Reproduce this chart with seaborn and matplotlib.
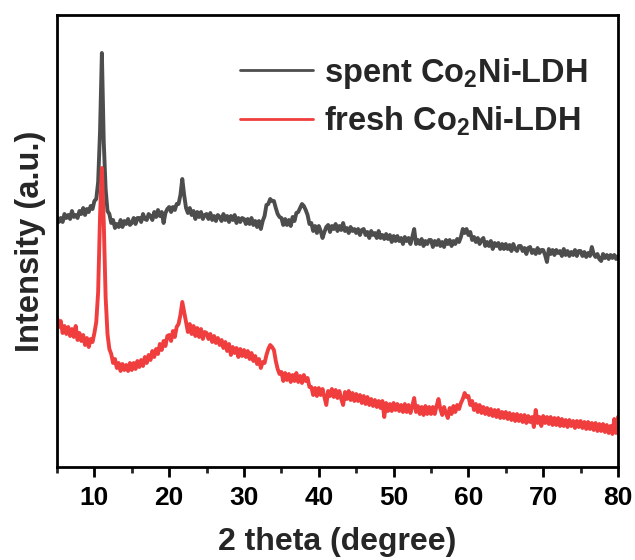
import numpy as np
import pandas as pd
import matplotlib
matplotlib.use("Agg")
import matplotlib.pyplot as plt
import seaborn as sns
from matplotlib.ticker import MultipleLocator

# 2-theta scan grid (degrees)
two_theta = np.arange(5.0, 80.001, 0.25)

# spent Co2Ni-LDH intensity (a.u.)
spent = [
    250,245,249,245,253,249,252,248,256,250,252,249,256,253,259,252,258,255,261,258,
    266,268,285,335,414,325,278,256,253,244,247,239,243,240,247,240,246,243,248,242,
    244,249,243,249,249,245,253,248,247,253,251,247,255,250,257,251,255,244,254,258,
    260,255,260,257,263,263,272,288,272,259,254,259,252,256,248,255,250,255,248,252,
    253,248,254,247,251,246,252,250,246,253,247,251,245,251,247,252,244,249,245,249,
    248,243,248,243,249,242,246,240,246,238,246,251,262,263,268,266,266,259,253,250,
    249,242,248,242,247,241,250,246,254,255,259,263,261,257,252,243,244,236,241,234,
    241,236,229,235,240,242,235,241,238,243,236,241,237,244,236,239,234,240,236,238,
    234,238,232,237,238,232,235,229,236,232,234,229,236,229,232,228,233,228,232,225,
    231,226,231,226,229,223,230,226,229,223,230,238,223,227,223,228,221,226,223,227,
    227,220,226,222,227,221,225,220,227,223,227,221,226,223,228,225,230,238,234,238,
    232,235,227,230,225,229,223,227,229,221,225,221,226,218,224,221,224,218,223,218,
    223,218,222,216,223,218,216,221,221,216,219,213,219,220,214,217,213,219,214,217,
    217,212,205,218,213,217,212,217,214,216,211,218,212,216,211,215,212,217,211,216,
    216,211,215,210,214,211,220,213,210,213,208,206,213,209,212,208,212,209,212,208,211,
]

# fresh Co2Ni-LDH intensity (a.u.)
fresh = [
    150,140,146,134,141,133,140,131,138,130,141,127,134,126,132,122,129,120,128,125,
    134,145,175,250,299,245,170,133,118,113,104,108,99,104,96,103,97,102,96,104,
    97,104,98,106,100,107,101,110,104,112,107,116,110,118,113,123,117,126,121,131,
    132,126,136,130,140,143,152,165,155,145,135,143,133,141,131,139,130,138,128,135,
    134,128,133,125,131,124,129,122,127,119,125,116,123,112,120,114,119,110,118,111,
    117,110,116,108,114,106,111,103,108,99,105,104,112,118,122,120,117,106,98,93,
    95,86,94,87,93,85,92,86,94,85,91,84,92,86,89,80,80,72,79,71,
    79,72,78,70,62,76,71,78,70,77,69,76,68,62,75,68,76,67,74,66,
    73,66,72,64,71,63,70,62,68,61,67,60,66,59,66,50,64,56,63,56,
    64,57,63,56,62,55,63,55,62,54,61,69,55,61,53,60,52,61,53,60,
    53,60,53,61,68,58,52,60,54,49,59,53,61,55,62,58,64,68,74,70,
    71,62,66,57,63,55,62,54,60,53,59,52,58,51,57,50,57,49,55,49,
    55,48,54,47,53,46,53,46,52,45,52,44,51,45,50,40,57,44,50,41,
    51,44,50,43,50,42,49,42,49,41,48,41,47,40,47,41,46,39,46,40,
    46,39,45,38,45,38,44,37,44,36,43,36,43,35,42,34,41,33,48,34,50,
]

labels = [r"spent Co$_{2}$Ni-LDH", r"fresh Co$_{2}$Ni-LDH"]
colors = ["#4d4d4d", "#f03e3e"]
x_ticks = [10, 20, 30, 40, 50, 60, 70, 80]

df = pd.concat([
    pd.DataFrame({"2theta": two_theta, "I": spent, "sample": labels[0]}),
    pd.DataFrame({"2theta": two_theta, "I": fresh, "sample": labels[1]}),
])

sns.set_theme(style="ticks")
plt.rcParams["font.family"] = ["Liberation Sans", "DejaVu Sans"]
plt.rcParams["font.weight"] = "bold"
plt.rcParams["mathtext.fontset"] = "custom"
plt.rcParams["mathtext.rm"] = "Liberation Sans:bold"
plt.rcParams["mathtext.bf"] = "Liberation Sans:bold"
plt.rcParams["mathtext.it"] = "Liberation Sans:bold"

fig = plt.figure(figsize=(6.35, 5.6), dpi=100)
ax = fig.add_axes([57/635, 93/560, 561/635, 452/560])

sns.lineplot(data=df, x="2theta", y="I", hue="sample", palette=colors,
             hue_order=labels, estimator=None, sort=False, linewidth=2.8, ax=ax)

ax.set_xlim(5, 80)
ax.set_ylim(0, 452)
ax.set_xticks(x_ticks)
ax.xaxis.set_minor_locator(MultipleLocator(5))
ax.set_yticks([])
ax.tick_params(axis="x", which="major", direction="out", length=7, width=2,
               labelsize=19, pad=7, colors="black")
ax.tick_params(axis="x", which="minor", direction="out", length=4, width=2)
for lab in ax.get_xticklabels():
    lab.set_fontweight("bold")
for sp in ax.spines.values():
    sp.set_visible(True)
    sp.set_linewidth(2)
    sp.set_color("black")

ax.set_xlabel("2 theta (degree)", fontsize=23, fontweight="bold", labelpad=12)
ax.set_ylabel("Intensity (a.u.)", fontsize=23.5, fontweight="bold", labelpad=8)

leg = ax.legend(loc="upper left", bbox_to_anchor=(0.326, 0.91), frameon=False,
                fontsize=23.5, handlelength=2.24, handletextpad=0.34,
                labelspacing=0.43, borderpad=0, borderaxespad=0)
for t in leg.get_texts():
    t.set_fontweight("bold")
for h in leg.get_lines():
    h.set_linewidth(2)

fig.savefig("out.png", dpi=100)
